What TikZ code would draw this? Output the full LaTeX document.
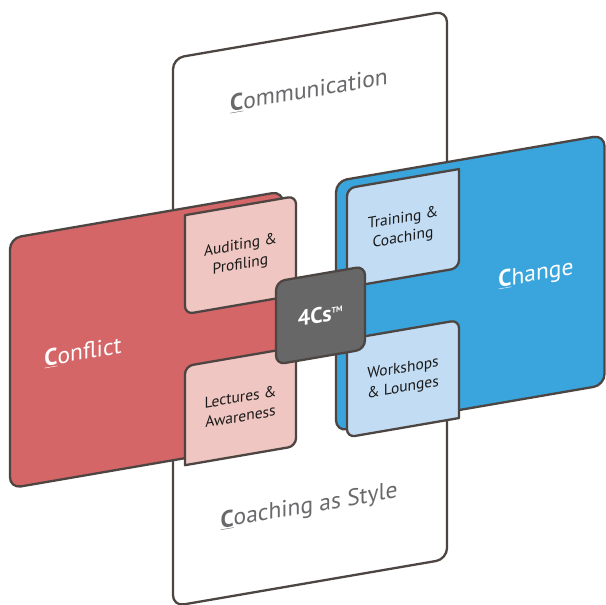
\documentclass[tikz,border=0pt]{standalone}
\usepackage{fontspec}
\setmainfont{PT Sans}
\definecolor{cardline}{RGB}{77,69,66}
\definecolor{conflictred}{RGB}{212,102,104}
\definecolor{conflicttab}{RGB}{239,198,193}
\definecolor{changeblue}{RGB}{58,164,220}
\definecolor{changetab}{RGB}{194,220,243}
\definecolor{coregray}{RGB}{103,103,103}
\definecolor{labelgray}{RGB}{105,105,108}
\newcommand{\capC}{\underline{\textbf{C}}}
\tikzset{every picture/.style={line width=2.3pt},
  card/.style={draw=cardline, rounded corners=11pt},
  tab/.style={draw=cardline, line join=round},
  tablabel/.style={align=center, text=black!90, transform shape,
    font=\fontsize{15.5}{19.5}\selectfont},
  biglabel/.style={anchor=base, transform shape, font=\fontsize{23.5}{27}\selectfont}}

\begin{document}
\begin{tikzpicture}[x=1pt,y=-1pt]
\useasboundingbox (0,0) rectangle (606,605);
\begin{scope}[yslant=0.172]
% the white card behind
\draw[card, fill=white] (173,88) rectangle (447,636);

% conflict card and its tabs
\draw[card, fill=conflictred] (10,240) rectangle (283,490);
\draw[tab, fill=conflicttab] (185,247) [rounded corners=8pt] -- (296,247) -- (296,346) -- (185,346) [sharp corners] -- cycle;
\draw[tab, fill=conflicttab] (185,497) [rounded corners=8pt] -- (185,398) -- (296,398) -- (296,497) [sharp corners] -- cycle;

% change card and its tabs
\draw[card, fill=changeblue] (336,239) rectangle (604.5,489);
\draw[tab, fill=changetab] (459,248) [rounded corners=8pt] -- (459,347) -- (347,347) -- (347,248) [sharp corners] -- cycle;
\draw[tab, fill=changetab] (459,497) [rounded corners=8pt] -- (347,497) -- (347,399) -- (459,399) [sharp corners] -- cycle;

% the core
\node[draw=cardline, fill=coregray, rounded corners=9pt, transform shape,
  minimum width=89pt, minimum height=83pt, text=white,
  font=\fontsize{22}{24}\selectfont\bfseries] (core) at (320.5,370.5)
  {4Cs\textsuperscript{\fontsize{8}{8}\selectfont TM}};

% labels
\node[biglabel, text=labelgray] (comm) at (309,151) {\capC{}ommunication};
\node[biglabel, text=labelgray] (style) at (309,566) {\capC{}oaching as Style};
\node[biglabel, text=white] (conflict) at (83,374) {\capC{}onflict};
\node[biglabel, text=white] (change) at (536,373) {\capC{}hange};

\node[tablabel] (audit) at (240.5,297) {Auditing \&\\Profiling};
\node[tablabel] (lectures) at (240.5,448) {Lectures \&\\Awareness};
\node[tablabel] (training) at (403,298) {Training \&\\Coaching};
\node[tablabel] (workshops) at (403,448) {Workshops\\\& Lounges};
\end{scope}
\end{tikzpicture}
\end{document}
